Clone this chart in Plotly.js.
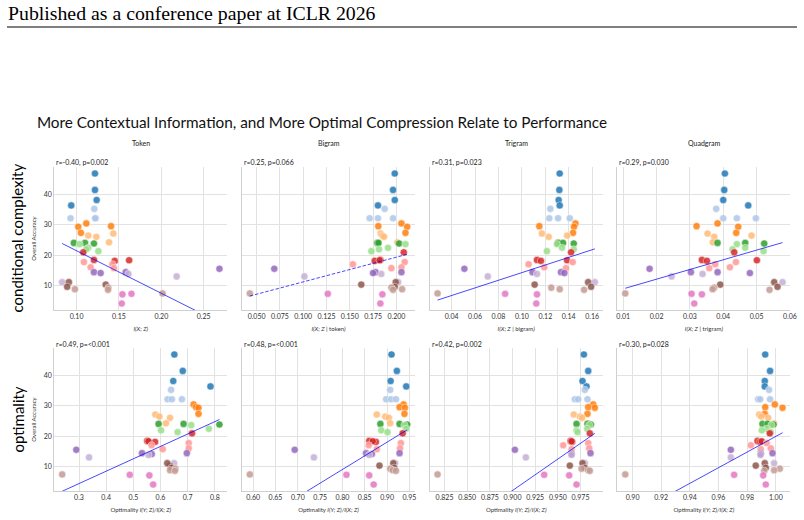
<!DOCTYPE html>
<html>
<head>
<meta charset="utf-8">
<script src="https://cdn.plot.ly/plotly-3.0.1.min.js"></script>
<style>
  html, body { margin: 0; padding: 0; background: #ffffff; }
  #chart { width: 804px; height: 520px; }
</style>
</head>
<body>
<div id="chart"></div>
<script>
// ---- data -------------------------------------------------------------
// model family index (tab20 colour pairs), one entry per model
const family = [
  0,0,0,0, 1,1,1,1, 2,2,2,2, 3,3,3,3, 4,4,4, 5,5,5,5,
  6,6,6,6, 7,7,7,7, 8,8,8,8, 9,9,9, 10,10,10, 11,11,11,11, 12,12,12
];

// overall accuracy of each model
const accuracy = [
  46.8, 41.4, 38.1, 36.3,  35.2, 32.1, 32.1, 32.1,  30.4, 29.5, 29.3, 27.3,
  27.1, 26.4, 26.0, 24.2,  24.0, 24.0, 23.8,  23.6, 22.4, 21.9, 21.3,
  20.9, 18.4, 18.1, 18.3,  17.7, 17.0, 16.0, 15.7,  15.5, 14.4, 14.4, 14.1,
  13.8, 13.0, 11.1,  10.3, 11.1, 9.6,  9.3, 8.8, 8.6, 7.4,  7.3, 7.1, 4.1
];

// I(X; Z) with no conditioning context
const tokenMI = [
  0.1217, 0.1217, 0.1237, 0.0937,  0.1209, 0.0929, 0.1225, 0.1220,  0.1115, 0.1407, 0.1020, 0.1051,
  0.1434, 0.1138, 0.1233, 0.1383,  0.0968, 0.1099, 0.1205,  0.1036, 0.1138, 0.1115, 0.1257,
  0.1079, 0.1205, 0.1450, 0.1620,  0.1087, 0.1423, 0.1166, 0.1442,  0.2686, 0.1205, 0.1580, 0.1284,
  0.1612, 0.2181, 0.0830,  0.1344, 0.0909, 0.0889,  0.1375, 0.0980, 0.1371, 0.2015,  0.1648, 0.1541, 0.1533
];

// I(X; Z | token)
const bigramMI = [
  0.1982, 0.1964, 0.1982, 0.1802,  0.1874, 0.1713, 0.1802, 0.1964,  0.2054, 0.1806, 0.2115, 0.2097,
  0.1831, 0.1849, 0.1867, 0.2011,  0.1795, 0.1808, 0.2029,  0.2097, 0.1910, 0.1813, 0.1731,
  0.2079, 0.1828, 0.1767, 0.1820,  0.2089, 0.1533, 0.2054, 0.1946,  0.0690, 0.1777, 0.2054, 0.1749,
  0.1838, 0.1013, 0.2018,  0.1623, 0.1993, 0.1982,  0.1946, 0.2061, 0.1964, 0.0428,  0.1264, 0.1849, 0.1828
];

// I(X; Z | bigram)
const trigramMI = [
  0.1323, 0.1320, 0.1314, 0.1323,  0.1243, 0.1234, 0.1309, 0.1409,  0.1457, 0.1149, 0.1445, 0.1437,
  0.1171, 0.1386, 0.1229, 0.1309,  0.1309, 0.1351, 0.1443,  0.1300, 0.1343, 0.1443, 0.1214,
  0.1420, 0.1129, 0.1163, 0.1386,  0.1434, 0.1057, 0.1191, 0.1377,  0.0509, 0.1091, 0.1334, 0.1363,
  0.1129, 0.0709, 0.1623,  0.1109, 0.1566, 0.1591,  0.1251, 0.1323, 0.1531, 0.0280,  0.0857, 0.1129, 0.1123
];

// I(X; Z | trigram)
const quadgramMI = [
  0.0405, 0.0403, 0.0400, 0.0475,  0.0379, 0.0400, 0.0441, 0.0498,  0.0383, 0.0320, 0.0445, 0.0439,
  0.0353, 0.0485, 0.0373, 0.0369,  0.0383, 0.0466, 0.0523,  0.0441, 0.0466, 0.0428, 0.0521,
  0.0433, 0.0336, 0.0351, 0.0501,  0.0438, 0.0376, 0.0420, 0.0358,  0.0179, 0.0303, 0.0383, 0.0480,
  0.0338, 0.0245, 0.0578,  0.0391, 0.0553, 0.0563,  0.0373, 0.0368, 0.0539, 0.0106,  0.0305, 0.0336, 0.0313
];

// optimality I(Y; Z)/I(X; Z) at each context length
const tokenOpt = [
  0.651, 0.682, 0.647, 0.784,  0.639, 0.626, 0.642, 0.679,  0.722, 0.731, 0.740, 0.740,
  0.581, 0.596, 0.635, 0.620,  0.593, 0.685, 0.817,  0.713, 0.778, 0.602, 0.663,
  0.716, 0.551, 0.580, 0.556,  0.704, 0.567, 0.704, 0.608,  0.290, 0.532, 0.697, 0.568,
  0.556, 0.337, 0.650,  0.635, 0.625, 0.640,  0.655, 0.635, 0.653, 0.238,  0.487, 0.559, 0.573
];

const bigramOpt = [
  0.910, 0.922, 0.908, 0.943,  0.907, 0.898, 0.909, 0.920,  0.937, 0.928, 0.940, 0.939,
  0.877, 0.896, 0.904, 0.907,  0.885, 0.928, 0.945,  0.939, 0.943, 0.887, 0.901,
  0.935, 0.860, 0.875, 0.868,  0.931, 0.859, 0.929, 0.877,  0.693, 0.853, 0.928, 0.866,
  0.860, 0.736, 0.918,  0.883, 0.914, 0.916,  0.907, 0.913, 0.920, 0.5925,  0.809, 0.860, 0.870
];

const trigramOpt = [
  0.9787, 0.9835, 0.9772, 0.9816,  0.9798, 0.9688, 0.9724, 0.9827,  0.9890, 0.9835, 0.9908, 0.9827,
  0.9676, 0.9743, 0.9768, 0.9835,  0.9706, 0.9827, 0.9864,  0.9846, 0.9824, 0.9706, 0.9717,
  0.9853, 0.9640, 0.9658, 0.9651,  0.9835, 0.9559, 0.9846, 0.9651,  0.9026, 0.9651, 0.9860, 0.9651,
  0.9651, 0.9147, 0.9798,  0.9632, 0.9772, 0.9798,  0.9761, 0.9835, 0.9853, 0.8173,  0.9349, 0.9625, 0.9706
];

const quadgramOpt = [
  0.9926, 0.9960, 0.9923, 0.9923,  0.9953, 0.9877, 0.9891, 0.9960,  0.9993, 0.9926, 1.0047, 0.9923,
  0.9884, 0.9898, 0.9947, 0.9988,  0.9907, 0.9942, 0.9984,  0.9970, 0.9935, 0.9902, 0.9965,
  0.9958, 0.9872, 0.9891, 0.9902,  0.9937, 0.9826, 0.9965, 0.9895,  0.9686, 0.9895, 0.9977, 0.9895,
  0.9893, 0.9686, 0.9988,  0.9860, 0.9923, 0.9930,  1.0028, 0.9988, 0.9919, 0.8949,  0.9709, 0.9912, 0.9930
];

const columnTitles = ['Token', 'Bigram', 'Trigram', 'Quadgram'];
const rowTitles = ['conditional complexity', 'optimality'];

// correlation statistics shown above each panel
const rValues = [-0.40, 0.25, 0.31, 0.29, 0.49, 0.48, 0.42, 0.30];
const pValues = ['0.002', '0.066', '0.023', '0.030', '<0.001', '<0.001', '0.002', '0.028'];

// fitted regression line for each panel: accuracy = intercept + slope * x
const fitSlope = [-139.7, 81.2, 125.3, 317.8, 40.7, 89.7, 206.7, 257.0];
const fitIntercept = [35.4, 3.08, 1.71, 5.74, -7.81, -62.73, -183.9, -237.1];

const xTitles = [
  '<i>I(X; Z)</i>', '<i>I(X; Z</i> | token<i>)</i>', '<i>I(X; Z</i> | bigram<i>)</i>', '<i>I(X; Z</i> | trigram<i>)</i>',
  'Optimality <i>I(Y; Z)/I(X; Z)</i>', 'Optimality <i>I(Y; Z)/I(X; Z)</i>',
  'Optimality <i>I(Y; Z)/I(X; Z)</i>', 'Optimality <i>I(Y; Z)/I(X; Z)</i>'
];
const yTitle = 'Overall Accuracy';

const xTickLabels = [
  ['0.10', '0.15', '0.20', '0.25'],
  ['0.050', '0.075', '0.100', '0.125', '0.150', '0.175', '0.200'],
  ['0.04', '0.06', '0.08', '0.10', '0.12', '0.14', '0.16'],
  ['0.01', '0.02', '0.03', '0.04', '0.05', '0.06'],
  ['0.3', '0.4', '0.5', '0.6', '0.7', '0.8'],
  ['0.60', '0.65', '0.70', '0.75', '0.80', '0.85', '0.90', '0.95'],
  ['0.825', '0.850', '0.875', '0.900', '0.925', '0.950', '0.975'],
  ['0.90', '0.92', '0.94', '0.96', '0.98', '1.00']
];
const yTickLabels = ['10', '20', '30', '40'];

const headerText = 'Published as a conference paper at ICLR 2026';
const mainTitle = 'More Contextual Information, and More Optimal Compression Relate to Performance';

// ---- styling ------------------------------------------------------------
const palette = ['#1f77b4', '#aec7e8', '#ff7f0e', '#ffbb78', '#2ca02c', '#98df8a',
                 '#d62728', '#ff9896', '#9467bd', '#c5b0d5', '#8c564b', '#c49c94', '#e377c2'];
const FONT = 'Lato, "Noto Sans", "DejaVu Sans", sans-serif';
const W = 804, H = 520;
const GRID = '#e2e2e2', SPINE = '#d0d0d0', TICK = '#333333';

// panel placement in pixels
const colLeft = [54.3, 242.0, 429.7, 617.4];
const colWidth = 173;
const rowTop = [167, 348];
const rowHeight = 143;

const xSeries = [tokenMI, bigramMI, trigramMI, quadgramMI, tokenOpt, bigramOpt, trigramOpt, quadgramOpt];

function padded(vals) {
  const lo = Math.min(...vals), hi = Math.max(...vals), pad = 0.05 * (hi - lo);
  return [lo - pad, hi + pad];
}

const yRange = padded(accuracy);
const colors = family.map(f => palette[f]);
const traces = [];
const layout = {
  width: W, height: H,
  margin: { l: 0, r: 0, t: 0, b: 0 },
  paper_bgcolor: '#ffffff', plot_bgcolor: '#ffffff',
  showlegend: false,
  font: { family: FONT, color: TICK },
  title: {
    text: mainTitle,
    x: 322 / W, xanchor: 'center', xref: 'paper',
    y: 1 - 123 / H, yanchor: 'middle', yref: 'paper',
    font: { family: FONT, size: 15.3, color: '#111111' }
  },
  annotations: [],
  shapes: [{
    type: 'line', xref: 'paper', yref: 'paper',
    x0: 7 / W, x1: 797 / W, y0: 1 - 27 / H, y1: 1 - 27 / H,
    line: { color: '#000000', width: 1 }
  }]
};

layout.annotations.push({
  text: headerText, xref: 'paper', yref: 'paper', showarrow: false,
  x: 6 / W, xanchor: 'left', y: 1 - 13 / H, yanchor: 'middle',
  font: { family: '"Liberation Serif", "DejaVu Serif", serif', size: 19.8, color: '#000000' }
});

for (let p = 0; p < 8; p++) {
  const row = Math.floor(p / 4), col = p % 4;
  const id = p === 0 ? '' : String(p + 1);
  const xs = xSeries[p];
  const x0 = colLeft[col], x1 = x0 + colWidth;
  const yTop = rowTop[row], yBot = yTop + rowHeight;

  traces.push({
    type: 'scatter', mode: 'markers', x: xs, y: accuracy,
    xaxis: 'x' + id, yaxis: 'y' + id, hoverinfo: 'skip',
    marker: { size: 7.2, color: colors, opacity: 0.85, line: { color: '#ffffff', width: 0.5 } }
  });

  // regression line over the observed x span (clipped to the panel)
  const xmin = Math.min(...xs), xmax = Math.max(...xs);
  const pNum = pValues[p].startsWith('<') ? 0 : parseFloat(pValues[p]);
  traces.push({
    type: 'scatter', mode: 'lines',
    x: [xmin, xmax],
    y: [fitIntercept[p] + fitSlope[p] * xmin, fitIntercept[p] + fitSlope[p] * xmax],
    xaxis: 'x' + id, yaxis: 'y' + id, hoverinfo: 'skip',
    line: { color: 'rgba(0,0,255,0.72)', width: 1, dash: pNum < 0.05 ? 'solid' : '3.5px,1.8px' }
  });

  layout['xaxis' + id] = {
    domain: [x0 / W, x1 / W], anchor: 'y' + id,
    range: padded(xs),
    tickmode: 'array', tickvals: xTickLabels[p].map(Number), ticktext: xTickLabels[p],
    showgrid: true, gridcolor: GRID, gridwidth: 1, zeroline: false,
    showline: true, linecolor: SPINE, linewidth: 1, ticks: '',
    tickfont: { family: FONT, size: 7, color: TICK },
    title: { text: xTitles[p], font: { family: FONT, size: 6, color: TICK }, standoff: 7 },
    automargin: false, fixedrange: true
  };
  layout['yaxis' + id] = {
    domain: [1 - yBot / H, 1 - yTop / H], anchor: 'x' + id,
    range: yRange,
    tickmode: 'array', tickvals: yTickLabels.map(Number), ticktext: yTickLabels,
    showticklabels: col === 0,
    showgrid: true, gridcolor: GRID, gridwidth: 1, zeroline: false,
    showline: true, linecolor: SPINE, linewidth: 1, ticks: '',
    tickfont: { family: FONT, size: 7, color: TICK },
    title: col === 0 ? { text: yTitle, font: { family: FONT, size: 6, color: TICK }, standoff: 6 } : { text: '' },
    automargin: false, fixedrange: true
  };

  // correlation label above the panel
  layout.annotations.push({
    text: 'r=' + rValues[p].toFixed(2) + ', p=' + pValues[p],
    xref: 'x' + id + ' domain', yref: 'y' + id + ' domain', showarrow: false,
    x: 0, xanchor: 'left', y: 1, yanchor: 'middle', yshift: 4,
    font: { family: FONT, size: 7, color: '#222222' }
  });
}

columnTitles.forEach((t, c) => {
  layout.annotations.push({
    text: t, xref: 'paper', yref: 'paper', showarrow: false,
    x: (colLeft[c] + colWidth / 2) / W, xanchor: 'center', y: 1 - 143 / H, yanchor: 'middle',
    font: { family: FONT, size: 7, color: '#222222' }
  });
});

rowTitles.forEach((t, r) => {
  layout.annotations.push({
    text: t, xref: 'paper', yref: 'paper', showarrow: false, textangle: -90,
    x: 17 / W, xanchor: 'center', y: 1 - (rowTop[r] + rowHeight / 2) / H, yanchor: 'middle',
    font: { family: FONT, size: 15, color: '#000000' }
  });
});

Plotly.newPlot('chart', traces, layout, { staticPlot: true, displayModeBar: false });
</script>
</body>
</html>
